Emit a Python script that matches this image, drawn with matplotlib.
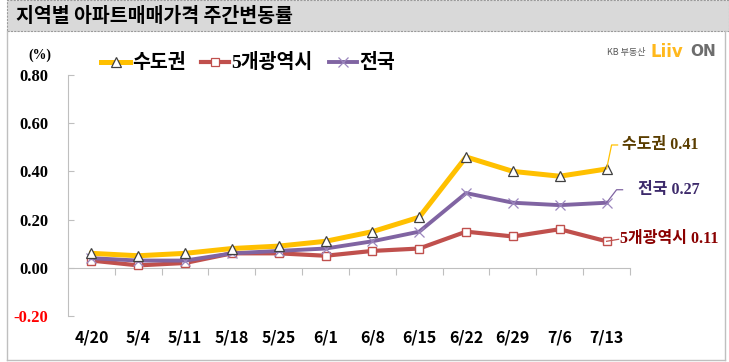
import matplotlib
matplotlib.use("Agg")
import matplotlib.pyplot as plt
from matplotlib.patches import Rectangle
from matplotlib.lines import Line2D
import matplotlib.transforms as mtransforms

# ---- data ----
weeks = ["4/20", "5/4", "5/11", "5/18", "5/25", "6/1", "6/8", "6/15", "6/22", "6/29", "7/6", "7/13"]
capital = [0.06, 0.05, 0.06, 0.08, 0.09, 0.11, 0.15, 0.21, 0.46, 0.40, 0.38, 0.41]
metro5 = [0.03, 0.01, 0.02, 0.06, 0.06, 0.05, 0.07, 0.08, 0.15, 0.13, 0.16, 0.11]
national = [0.04, 0.03, 0.03, 0.06, 0.07, 0.08, 0.11, 0.15, 0.31, 0.27, 0.26, 0.27]
series_names = ["수도권", "5개광역시", "전국"]
yticks = [-0.20, 0.00, 0.20, 0.40, 0.60, 0.80]
title = "지역별 아파트매매가격 주간변동률"

W, H = 729, 362
fig = plt.figure(figsize=(W / 100, H / 100), dpi=100)
fig.patch.set_facecolor("white")

KR = ["Noto Sans CJK KR"]
MIX = ["Liberation Serif", "Noto Sans CJK KR"]

def fx(px):
    return px / W

def fy(py):
    return 1 - py / H

# title bar
fig.patches.append(Rectangle((fx(7), fy(31)), fx(729) - fx(7), fy(0) - fy(31),
                             transform=fig.transFigure, facecolor="#D9D9D9",
                             edgecolor="#9a9a9a", linestyle=(0, (2, 1)), linewidth=0.8))
fig.text(fx(16), fy(16), title, fontsize=14, fontweight="black", family=KR,
         ha="left", va="center", color="black")

# outer frame
for (x0, y0, x1, y1) in [(7, 31, 7, 360), (7, 360, 725, 360), (725, 31, 725, 360)]:
    fig.lines.append(Line2D([fx(x0), fx(x1)], [fy(y0), fy(y1)], transform=fig.transFigure,
                            color="#BFBFBF", linewidth=1.0))

# axes
left, right, top, bottom = 68, 630, 75, 316
ax = fig.add_axes([fx(left), fy(bottom), fx(right) - fx(left), fy(top) - fy(bottom)])
ax.set_xlim(0, len(weeks))
ax.set_ylim(-0.2, 0.8)
ax.patch.set_alpha(0)

x = [i + 0.5 for i in range(len(weeks))]
cap_c, met_c, nat_c = "#FFC000", "#C0504D", "#8064A2"

ax.plot(x, metro5, color=met_c, linewidth=3.0, marker="s", markersize=5.5,
        markerfacecolor="white", markeredgecolor=met_c, markeredgewidth=1.0, zorder=3,
        label=series_names[1])
ax.plot(x, national, color=nat_c, linewidth=2.8, marker="x", markersize=7,
        markeredgecolor="#9b86bd", markeredgewidth=0.9, zorder=4, label=series_names[2])
ax.plot(x, capital, color=cap_c, linewidth=3.6, marker="^", markersize=7,
        markerfacecolor="white", markeredgecolor="#404040", markeredgewidth=0.9, zorder=5,
        label=series_names[0])

# spines
for s in ["top", "right"]:
    ax.spines[s].set_visible(False)
ax.spines["left"].set_color("#BFBFBF")
ax.spines["bottom"].set_color("#BFBFBF")
ax.spines["bottom"].set_position(("data", 0))

ax.set_yticks(yticks)
ax.set_yticklabels([f"{v:.2f}" for v in yticks])
ax.tick_params(axis="y", direction="in", length=4, color="#BFBFBF", pad=14)
for lab, v in zip(ax.get_yticklabels(), yticks):
    lab.set_family(["Liberation Serif"])
    lab.set_fontweight("bold")
    lab.set_fontsize(12)
    lab.set_color("red" if v < 0 else "black")

ax.set_xticks(range(1, len(weeks) + 1))
ax.set_xticklabels([])
ax.tick_params(axis="x", direction="out", length=5, color="#BFBFBF")

btrans = mtransforms.blended_transform_factory(ax.transData, ax.transAxes)
for xi, w in zip(x, weeks):
    ax.text(xi, -0.091, w, transform=btrans, ha="center", va="center",
            fontsize=11.5, fontweight="bold", family=KR, color="black")

fig.text(fx(40), fy(55), "(%)", fontsize=10, fontweight="bold", family=["Liberation Serif"],
         ha="center", va="center")

# legend (manual)
leg_y = fy(62)
items = [(101, 130, series_names[0], cap_c, "^", "white", "#404040", 3.6, 6.5),
         (201, 229, series_names[1], met_c, "s", "white", met_c, 3.0, 5.5),
         (329, 357, series_names[2], nat_c, "x", None, "#9b86bd", 2.8, 6.5)]
for (a, b, name, c, m, mfc, mec, lw, ms) in items:
    kw = dict(color=c, linewidth=lw, marker=m, markersize=ms, markeredgecolor=mec,
              markeredgewidth=0.9, markevery=[1], transform=fig.transFigure)
    if mfc:
        kw["markerfacecolor"] = mfc
    fig.lines.append(Line2D([fx(a), fx((a + b) / 2), fx(b)], [leg_y] * 3, **kw))
    fig.text(fx(b + 2), leg_y, name, fontsize=14, fontweight="bold", family=MIX,
             ha="left", va="center")

# end labels with leader lines
fig.canvas.draw()
inv = fig.transFigure.inverted()
def pt(xd, yd):
    return ax.transData.transform((xd, yd))

labels = [
    (capital[-1], f"{series_names[0]} {capital[-1]:.2f}", cap_c, "#5a3d00",
     [(0, 0), (5, 24), (11, 24)], (15, 24)),
    (national[-1], f"{series_names[2]} {national[-1]:.2f}", nat_c, "#3d2a6b",
     [(0, 0), (10, 13), (16, 13)], (31, 13)),
    (metro5[-1], f"{series_names[1]} {metro5[-1]:.2f}", met_c, "#8a0000",
     [(0, 0), (12, 2)], (13, 2)),
]
for v, txt, lc, tc, path, tpos in labels:
    px0, py0 = pt(x[-1], v)
    xs, ys = [], []
    for dx, dy in path:
        fxy = inv.transform((px0 + dx, py0 + dy))
        xs.append(fxy[0]); ys.append(fxy[1])
    fig.lines.append(Line2D(xs, ys, transform=fig.transFigure, color=lc, linewidth=0.9, zorder=2))
    tx, ty = inv.transform((px0 + tpos[0], py0 + tpos[1]))
    fig.text(tx, ty, txt, fontsize=11.5, fontweight="bold", family=MIX, color=tc,
             ha="left", va="center")

# logo
fig.text(fx(607), fy(52), "KB 부동산", fontsize=6.5, family=KR, color="#595959",
         ha="left", va="center")
fig.text(fx(651), fy(52), "Liiv", fontsize=12, fontweight="bold", family=["DejaVu Sans"],
         color="#FFB81C", ha="left", va="center")
fig.text(fx(690), fy(52), "ON", fontsize=11, fontweight="bold", family=["DejaVu Sans"],
         color="#6d6d6d", ha="left", va="center")

fig.savefig("out.png", dpi=100)
